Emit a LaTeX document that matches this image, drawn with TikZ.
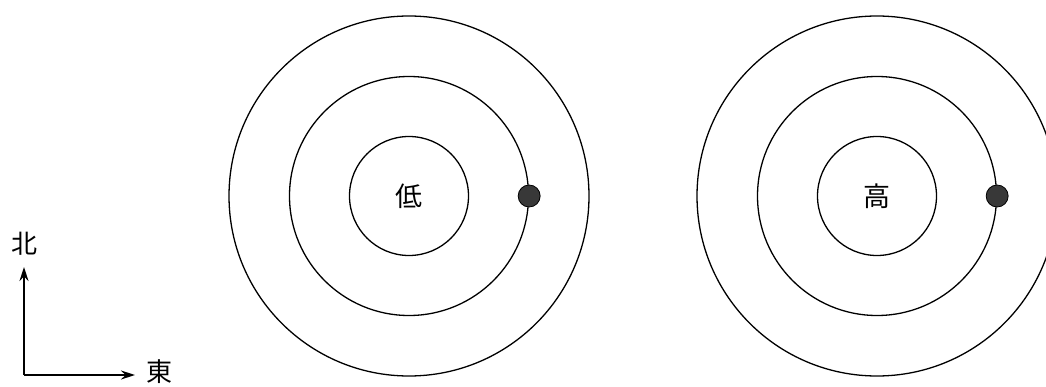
\documentclass[tikz,border=0pt]{standalone}
\usepackage{fontspec}
\newfontfamily\cjk{Noto Sans CJK JP}
\usetikzlibrary{arrows.meta}

\begin{document}
\begin{tikzpicture}[x=1pt,y=1pt,>={Stealth[length=14pt,width=9pt]},
  ring/.style={circle,draw,line width=1.3pt,inner sep=0pt},
  pebble/.style={circle,draw,fill=black!78,line width=0.8pt,inner sep=0pt,minimum size=22pt},
  glyph/.style={inner sep=0pt,font=\cjk\fontsize{26}{26}\selectfont}]
  \useasboundingbox (0,0) rectangle (1046,386);
  \clip (0,0) rectangle (1046,386);
  % low pressure rings
  \node[ring,minimum size=360pt] (lowout) at (409,190) {};
  \node[ring,minimum size=239pt] (lowmid) at (409,190) {};
  \node[ring,minimum size=119pt,font=\cjk\fontsize{27}{27}\selectfont] (lowin) at (409,190) {低};
  \node[pebble] (lowdot) at (lowmid.east) {};
  % high pressure rings
  \node[ring,minimum size=360pt] (highout) at (877,190) {};
  \node[ring,minimum size=239pt] (highmid) at (877,190) {};
  \node[ring,minimum size=119pt,font=\cjk\fontsize{27}{27}\selectfont] (highin) at (877,190) {高};
  \node[pebble] (highdot) at (highmid.east) {};
  % compass
  \coordinate (origin) at (24,11);
  \coordinate (ntip) at (24,119);
  \coordinate (etip) at (135,11);
  \node[glyph] (north) at (24,142) {北};
  \node[glyph] (east) at (159,14) {東};
  \draw[->,line width=1.4pt] (origin) -- (ntip);
  \draw[->,line width=1.4pt] (origin) -- (etip);
\end{tikzpicture}
\end{document}
